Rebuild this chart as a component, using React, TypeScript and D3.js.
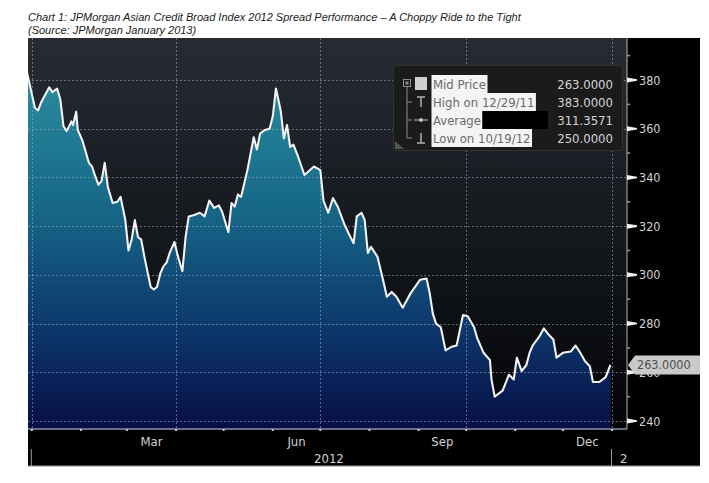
import React, { useEffect, useRef } from 'react';
import * as d3 from 'd3';

// JACI spread
const dates = [
  '2011-12-29', '2012-01-03', '2012-01-05', '2012-01-07', '2012-01-12', '2012-01-14', '2012-01-17', '2012-01-19',
  '2012-01-21', '2012-01-23', '2012-01-26', '2012-01-27', '2012-01-29', '2012-01-30', '2012-02-02', '2012-02-06',
  '2012-02-08', '2012-02-10', '2012-02-12', '2012-02-14', '2012-02-16', '2012-02-18', '2012-02-21', '2012-02-24',
  '2012-02-26', '2012-02-29', '2012-03-02', '2012-03-04', '2012-03-06', '2012-03-08', '2012-03-10', '2012-03-12',
  '2012-03-16', '2012-03-18', '2012-03-20', '2012-03-22', '2012-03-24', '2012-03-26', '2012-03-28', '2012-03-31',
  '2012-04-02', '2012-04-05', '2012-04-07', '2012-04-09', '2012-04-12', '2012-04-16', '2012-04-19', '2012-04-22',
  '2012-04-25', '2012-04-28', '2012-04-30', '2012-05-04', '2012-05-06', '2012-05-08', '2012-05-10', '2012-05-12',
  '2012-05-16', '2012-05-20', '2012-05-22', '2012-05-24', '2012-05-27', '2012-05-30', '2012-06-01', '2012-06-03',
  '2012-06-06', '2012-06-08', '2012-06-10', '2012-06-12', '2012-06-14', '2012-06-17', '2012-06-21', '2012-06-27',
  '2012-07-01', '2012-07-03', '2012-07-06', '2012-07-09', '2012-07-12', '2012-07-16', '2012-07-20', '2012-07-22',
  '2012-07-24', '2012-07-27', '2012-07-29', '2012-07-31', '2012-08-02', '2012-08-06', '2012-08-09', '2012-08-12',
  '2012-08-15', '2012-08-18', '2012-08-22', '2012-08-27', '2012-09-02', '2012-09-06', '2012-09-08', '2012-09-10',
  '2012-09-12', '2012-09-15', '2012-09-18', '2012-09-22', '2012-09-25', '2012-09-29', '2012-10-02', '2012-10-06',
  '2012-10-08', '2012-10-12', '2012-10-16', '2012-10-17', '2012-10-19', '2012-10-24', '2012-10-28', '2012-10-31',
  '2012-11-02', '2012-11-05', '2012-11-08', '2012-11-10', '2012-11-12', '2012-11-16', '2012-11-19', '2012-11-22',
  '2012-11-25', '2012-11-27', '2012-12-01', '2012-12-06', '2012-12-09', '2012-12-12', '2012-12-15', '2012-12-18',
  '2012-12-20', '2012-12-24', '2012-12-28', '2012-12-31',
];

const spreads = [
  383, 368.5, 367.5, 371, 377, 375, 376.5, 372,
  361, 359, 363, 361.5, 367, 359.5, 355, 346,
  344.5, 340.5, 337, 338.5, 346, 336, 329.5, 330,
  332, 322.5, 310, 314.5, 322.5, 315.5, 314.5, 307.5,
  295, 294, 295, 300.5, 303.5, 305, 309, 313.5,
  308, 301.5, 315.5, 324, 324.5, 325.5, 324, 330.5,
  327.5, 328.5, 326, 317.5, 329.5, 328, 333, 332,
  343, 356.5, 351.5, 358, 359.5, 360, 365, 376.5,
  367.5, 356, 361.5, 352.5, 353.5, 348.5, 341, 344.5,
  343, 330.5, 325.5, 331.5, 328, 321, 315.5, 313,
  324, 325.5, 322.5, 309, 311.5, 307.5, 299.5, 291,
  293, 291, 286.5, 292.5, 298, 298.5, 292.5, 284,
  280, 278.5, 269, 270.5, 271, 283.5, 283, 278.5,
  274, 268, 265, 257, 250, 252.5, 259, 257,
  266, 260.5, 263, 268, 271, 274.5, 278, 275.5,
  273.5, 266, 268, 268.5, 271, 268, 264.5, 262.5,
  256, 256, 258, 263,
];

const yTicks = [240, 260, 280, 300, 320, 340, 360, 380];
const yMinorTicks = [250, 270, 290, 310, 330, 350, 370, 390];
const monthLabels = ['Mar', 'Jun', 'Sep', 'Dec'];
const yearLabels = ['2012', '2'];
const legendLabels = ['Mid Price', 'High on 12/29/11', 'Average', 'Low on 10/19/12'];
const legendValues = ['263.0000', '383.0000', '311.3571', '250.0000'];
const lastLabel = '263.0000';

const titleLines = [
  'Chart 1: JPMorgan Asian Credit Broad Index 2012 Spread Performance \u2013 A Choppy Ride to the Tight',
  '(Source: JPMorgan January 2013)',
];

const FONT = '"DejaVu Sans Condensed", "DejaVu Sans", sans-serif';

function App() {
  const svgRef = useRef<SVGSVGElement>(null);
  const width = 709;
  const height = 483;

  useEffect(() => {
    if (!svgRef.current) return;
    document.body.style.margin = '0';
    const svg = d3.select(svgRef.current);
    svg.selectAll('*').remove();

    const parse = d3.timeParse('%Y-%m-%d');
    const data = dates.map((d, i) => ({ date: parse(d) as Date, value: spreads[i] }));

    const plot = { left: 28, right: 627, top: 38, bottom: 429 };

    const x = d3.scaleTime()
      .domain([new Date(2012, 0, 1), new Date(2013, 0, 1)])
      .range([31.8, 612]);
    const y = d3.scaleLinear().domain([240, 380]).range([421, 80]);
    const px = (v: number) => Math.round(v) + 0.5;

    svg.append('rect').attr('width', width).attr('height', height).attr('fill', '#fff');

    // title
    svg.selectAll('.title')
      .data(titleLines)
      .enter().append('text')
      .attr('x', 28)
      .attr('y', (d, i) => 21 + i * 12.5)
      .style('font-family', '"Liberation Sans", Arial, sans-serif')
      .style('font-style', 'italic')
      .style('font-size', '11px')
      .style('fill', '#1a1a1a')
      .text(d => d);

    const defs = svg.append('defs');
    const bgGrad = defs.append('linearGradient')
      .attr('id', 'bgGrad').attr('gradientUnits', 'userSpaceOnUse')
      .attr('x1', 0).attr('x2', 0).attr('y1', plot.top).attr('y2', plot.bottom);
    bgGrad.append('stop').attr('offset', 0).attr('stop-color', '#272c33');
    bgGrad.append('stop').attr('offset', 0.6).attr('stop-color', '#111419');
    bgGrad.append('stop').attr('offset', 1).attr('stop-color', '#030405');

    const areaGrad = defs.append('linearGradient')
      .attr('id', 'areaGrad').attr('gradientUnits', 'userSpaceOnUse')
      .attr('x1', 0).attr('x2', 0).attr('y1', 70).attr('y2', plot.bottom);
    areaGrad.append('stop').attr('offset', 0).attr('stop-color', '#2a8d9e');
    areaGrad.append('stop').attr('offset', 0.38).attr('stop-color', '#176888');
    areaGrad.append('stop').attr('offset', 0.72).attr('stop-color', '#0c376b');
    areaGrad.append('stop').attr('offset', 1).attr('stop-color', '#060e45');

    defs.append('clipPath').attr('id', 'plotClip')
      .append('rect')
      .attr('x', plot.left).attr('y', plot.top)
      .attr('width', plot.right - plot.left).attr('height', plot.bottom - plot.top);

    // black terminal panel
    svg.append('rect')
      .attr('x', 28).attr('y', 38).attr('width', 672).attr('height', 428)
      .attr('fill', '#000');
    svg.append('line')
      .attr('x1', 28).attr('x2', 700).attr('y1', 466).attr('y2', 466)
      .attr('stroke', '#8c8c8c').attr('stroke-width', 1);

    svg.append('rect')
      .attr('x', plot.left).attr('y', plot.top)
      .attr('width', plot.right - plot.left).attr('height', plot.bottom - plot.top)
      .attr('fill', 'url(#bgGrad)');

    const g = svg.append('g').attr('clip-path', 'url(#plotClip)');

    const area = d3.area<{ date: Date; value: number }>()
      .x(d => x(d.date)).y0(plot.bottom).y1(d => y(d.value));
    const line = d3.line<{ date: Date; value: number }>()
      .x(d => x(d.date)).y(d => y(d.value));

    g.append('path').datum(data).attr('d', area).attr('fill', 'url(#areaGrad)');

    // dotted grid
    g.selectAll('.hgrid')
      .data(yTicks)
      .enter().append('line')
      .attr('x1', plot.left).attr('x2', plot.right)
      .attr('y1', d => px(y(d))).attr('y2', d => px(y(d)))
      .attr('stroke', '#a3abbd').attr('stroke-opacity', 0.55)
      .attr('stroke-width', 1).attr('stroke-dasharray', '2,2');

    const quarters = d3.timeMonth.every(3)!.range(new Date(2012, 0, 1), new Date(2013, 0, 2));
    g.selectAll('.vgrid')
      .data(quarters)
      .enter().append('line')
      .attr('x1', d => px(x(d))).attr('x2', d => px(x(d)))
      .attr('y1', plot.top).attr('y2', plot.bottom)
      .attr('stroke', '#a3abbd').attr('stroke-opacity', 0.55)
      .attr('stroke-width', 1).attr('stroke-dasharray', '2,2');

    g.append('path').datum(data).attr('d', line)
      .attr('fill', 'none').attr('stroke', '#f2f2f2')
      .attr('stroke-width', 2.1).attr('stroke-linejoin', 'round');

    // x axis
    svg.append('line')
      .attr('x1', plot.left).attr('x2', plot.right)
      .attr('y1', plot.bottom).attr('y2', plot.bottom)
      .attr('stroke', '#8d91a3').attr('stroke-width', 1.5);

    const months = d3.timeMonth.range(new Date(2012, 0, 1), new Date(2013, 0, 2));
    svg.selectAll('.xdot')
      .data(months)
      .enter().append('rect')
      .attr('x', d => x(d) - 1).attr('y', plot.bottom)
      .attr('width', 2).attr('height', 2)
      .attr('fill', '#c8c8d0');

    const labelMonths = months.filter(m => monthLabels.includes(d3.timeFormat('%b')(m)));
    svg.selectAll('.xlabel')
      .data(labelMonths)
      .enter().append('text')
      .attr('x', d => (x(d) + x(d3.timeMonth.offset(d, 1))) / 2)
      .attr('y', 446)
      .attr('text-anchor', 'middle')
      .style('font-family', FONT)
      .style('font-size', '13px')
      .style('fill', '#d2d2d2')
      .text(d => d3.timeFormat('%b')(d));

    const years = [new Date(2012, 0, 1), new Date(2013, 0, 1)];
    svg.selectAll('.ysep')
      .data(years)
      .enter().append('line')
      .attr('x1', d => x(d) - 0.5).attr('x2', d => x(d) - 0.5)
      .attr('y1', 449).attr('y2', 466)
      .attr('stroke', '#9a9a9a').attr('stroke-width', 1);

    svg.selectAll('.yearlabel')
      .data(yearLabels)
      .enter().append('text')
      .attr('x', (d, i) => (i === 0 ? (x(years[0]) + x(years[1])) / 2 + 7 : x(years[1]) + 8))
      .attr('y', 463)
      .attr('text-anchor', (d, i) => (i === 0 ? 'middle' : 'start'))
      .style('font-family', FONT)
      .style('font-size', '13px')
      .style('fill', '#d2d2d2')
      .text(d => d);

    // right y axis
    svg.append('line')
      .attr('x1', plot.right).attr('x2', plot.right)
      .attr('y1', plot.top).attr('y2', plot.bottom)
      .attr('stroke', '#9a9a9a').attr('stroke-width', 1.2);

    svg.selectAll('.minor')
      .data(yMinorTicks)
      .enter().append('line')
      .attr('x1', plot.right).attr('x2', plot.right + 3)
      .attr('y1', d => y(d)).attr('y2', d => y(d))
      .attr('stroke', '#9a9a9a').attr('stroke-width', 1.5);

    svg.selectAll('.major')
      .data(yTicks)
      .enter().append('path')
      .attr('d', d => {
        const yy = y(d);
        return `M${plot.right},${yy - 2.5}L${plot.right + 10},${yy - 0.8}L${plot.right + 10},${yy + 0.8}L${plot.right},${yy + 2.5}Z`;
      })
      .attr('fill', '#f0f0f0');

    svg.selectAll('.ylabel')
      .data(yTicks)
      .enter().append('text')
      .attr('x', plot.right + 12)
      .attr('y', d => y(d))
      .attr('dy', '0.36em')
      .style('font-family', FONT)
      .style('font-size', '12.5px')
      .style('fill', '#d2d2d2')
      .text(d => d);

    // last value tag (covers most of the 260 label, as on the terminal)
    const ly = y(spreads[spreads.length - 1]);
    svg.append('path')
      .attr('d', `M${plot.right + 1},${ly}L${plot.right + 8},${ly - 9.5}L700,${ly - 9.5}L700,${ly + 9.5}L${plot.right + 8},${ly + 9.5}Z`)
      .attr('fill', '#c9c9c9');
    svg.append('text')
      .attr('x', plot.right + 10)
      .attr('y', ly)
      .attr('dy', '0.36em')
      .style('font-family', FONT)
      .style('font-size', '12.5px')
      .style('fill', '#4e4e4e')
      .text(lastLabel);

    // legend box
    const lg = svg.append('g');
    lg.append('rect')
      .attr('x', 393.5).attr('y', 65.5).attr('width', 229).attr('height', 85).attr('rx', 3)
      .attr('fill', '#1b1b1b').attr('stroke', '#333').attr('stroke-width', 1);

    const rowY = (i: number) => 84 + i * 18;

    const labels = lg.selectAll('.ltext')
      .data(legendLabels)
      .enter().append('text')
      .attr('x', 433)
      .attr('y', (d, i) => rowY(i))
      .attr('dy', '0.36em')
      .style('font-family', FONT)
      .style('font-size', '13px')
      .style('fill', '#6a6a6a')
      .text(d => d);

    labels.each(function (d, i) {
      const w = (this as SVGTextElement).getComputedTextLength();
      lg.insert('rect', 'text')
        .attr('x', 431.5).attr('y', rowY(i) - 9)
        .attr('width', w + 3).attr('height', 18)
        .attr('fill', '#f4f4f4');
      if (i === 2) {
        lg.insert('rect', 'text')
          .attr('x', 431.5 + w + 3).attr('y', rowY(i) - 9)
          .attr('width', 548 - (431.5 + w + 3)).attr('height', 18)
          .attr('fill', '#000');
      }
    });

    lg.selectAll('.lval')
      .data(legendValues)
      .enter().append('text')
      .attr('x', 613)
      .attr('y', (d, i) => rowY(i))
      .attr('dy', '0.36em')
      .attr('text-anchor', 'end')
      .style('font-family', FONT)
      .style('font-size', '13px')
      .style('fill', '#d4d4d4')
      .text(d => d);

    // legend icons
    const ic = '#8e8e8e';
    lg.append('rect').attr('x', 403.5).attr('y', 79.5).attr('width', 7).attr('height', 7)
      .attr('fill', 'none').attr('stroke', ic);
    lg.append('rect').attr('x', 405.5).attr('y', 81.5).attr('width', 3).attr('height', 3).attr('fill', ic);
    lg.append('line').attr('x1', 407).attr('x2', 407).attr('y1', 87).attr('y2', rowY(3)).attr('stroke', ic);
    [1, 2, 3].forEach(i => {
      lg.append('line').attr('x1', 407).attr('x2', 412).attr('y1', rowY(i)).attr('y2', rowY(i)).attr('stroke', ic);
    });
    lg.append('rect').attr('x', 415).attr('y', 77).attr('width', 12).attr('height', 13).attr('fill', '#cfcfcf');
    // high
    lg.append('line').attr('x1', 417).attr('x2', 425).attr('y1', rowY(1) - 5).attr('y2', rowY(1) - 5).attr('stroke', '#b0b0b0').attr('stroke-width', 1.5);
    lg.append('line').attr('x1', 421).attr('x2', 421).attr('y1', rowY(1) - 5).attr('y2', rowY(1) + 5).attr('stroke', '#b0b0b0').attr('stroke-width', 1.5);
    // average
    lg.append('line').attr('x1', 414).attr('x2', 428).attr('y1', rowY(2)).attr('y2', rowY(2)).attr('stroke', '#b0b0b0').attr('stroke-width', 1.2);
    lg.append('circle').attr('cx', 421).attr('cy', rowY(2)).attr('r', 2).attr('fill', '#c0c0c0');
    // low
    lg.append('line').attr('x1', 421).attr('x2', 421).attr('y1', rowY(3) - 5).attr('y2', rowY(3) + 5).attr('stroke', '#b0b0b0').attr('stroke-width', 1.5);
    lg.append('line').attr('x1', 417).attr('x2', 425).attr('y1', rowY(3) + 5).attr('y2', rowY(3) + 5).attr('stroke', '#b0b0b0').attr('stroke-width', 1.5);
    // resize grip
    lg.append('path').attr('d', 'M395,141L404,149L395,149Z').attr('fill', '#555');
  }, []);

  return (
    <svg ref={svgRef} width={width} height={height} style={{ display: 'block' }}></svg>
  );
}

export default App;
